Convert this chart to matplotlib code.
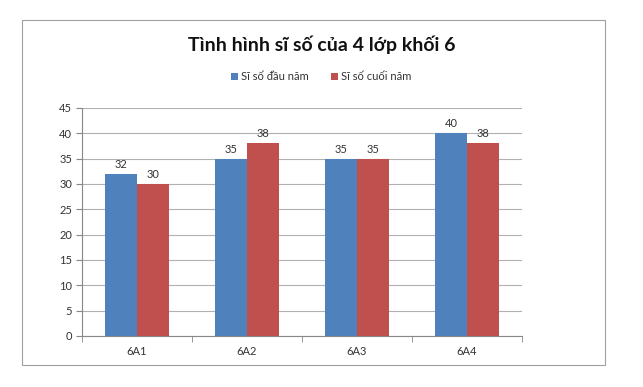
import matplotlib
matplotlib.use("Agg")
import matplotlib.pyplot as plt
from matplotlib.patches import Rectangle
import numpy as np

plt.rcParams['font.family'] = ['Lato', 'DejaVu Sans']

classes = ['6A1', '6A2', '6A3', '6A4']
dau_nam = [32, 35, 35, 40]
cuoi_nam = [30, 38, 35, 38]
series_names = ['Sĩ số đầu năm', 'Sĩ số cuối năm']
yticks = list(range(0, 50, 5))

blue = '#4F81BD'
red = '#C0504D'

fig = plt.figure(figsize=(6.43, 3.87), dpi=100)
fig.patches.append(Rectangle((22 / 643, 1 - 365 / 387), 583 / 643, 345 / 387,
                             transform=fig.transFigure, fill=False,
                             edgecolor='#a0a0a0', linewidth=0.8))
ax = fig.add_axes([82 / 643, 1 - 336 / 387, 440 / 643, 228 / 387])

x = np.arange(len(classes))
w = 0.29
b1 = ax.bar(x - w / 2, dau_nam, w, color=blue, label=series_names[0], zorder=3)
b2 = ax.bar(x + w / 2, cuoi_nam, w, color=red, label=series_names[1], zorder=3)
for bars in (b1, b2):
    ax.bar_label(bars, padding=3, fontsize=8, color='#333333')

ax.set_xlim(-0.5, len(classes) - 0.5)
ax.set_ylim(0, 45)
ax.set_yticks(yticks)
ax.yaxis.grid(True, color='#b0b0b0', linewidth=0.8, zorder=0)
ax.set_xticks(x)
ax.set_xticklabels(classes)
ax.set_xticks(np.arange(-0.5, len(classes)), minor=True)
ax.tick_params(axis='x', which='major', length=0, pad=7, labelsize=8, labelcolor='#333333')
ax.tick_params(axis='x', which='minor', length=4, color='#888888', direction='out')
ax.tick_params(axis='y', length=4, color='#888888', labelsize=8, labelcolor='#333333', pad=3)
for s in ['top', 'right']:
    ax.spines[s].set_visible(False)
ax.spines['left'].set_color('#888888')
ax.spines['bottom'].set_color('#888888')

fig.text(0.5, 1 - 45 / 387, 'Tình hình sĩ số của 4 lớp khối 6', ha='center', va='center',
         fontsize=14, fontweight='bold', color='#111111')
fig.legend(handles=[b1, b2], labels=series_names, loc='center', ncol=2,
           bbox_to_anchor=(0.5, 1 - 77 / 387), frameon=False, fontsize=8,
           handlelength=0.6, handleheight=0.6, handletextpad=0.3, columnspacing=2.0,
           labelcolor='#333333')

fig.savefig('out.png', dpi=100)
